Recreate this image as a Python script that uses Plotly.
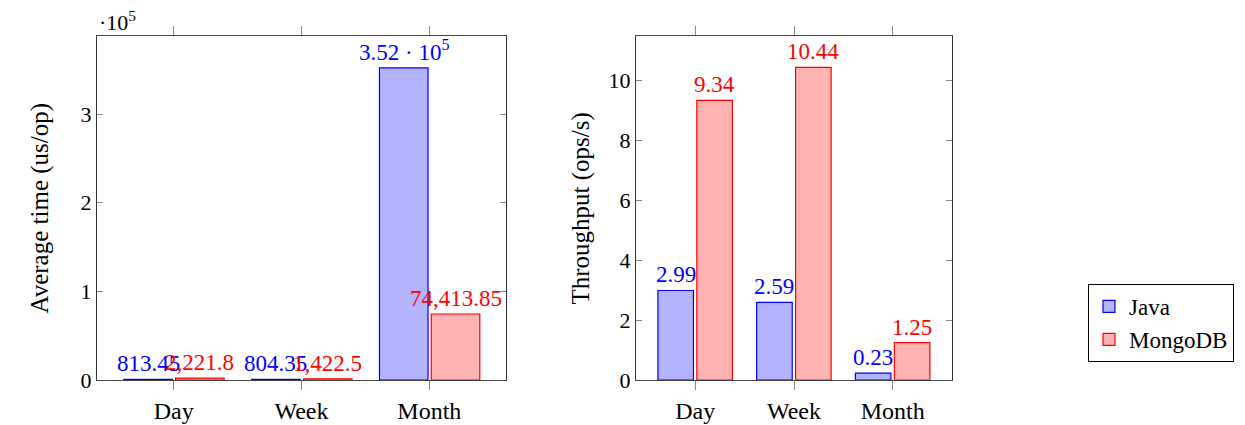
import math
import plotly.graph_objects as go

categories = ["Day", "Week", "Month"]
series_names = ["Java", "MongoDB"]
avg_time_java = [813.45, 804.35, 352000]
avg_time_mongo = [2221.8, 1422.5, 74413.85]
throughput_java = [2.99, 2.59, 0.23]
throughput_mongo = [9.34, 10.44, 1.25]

W, H = 1245, 425
FONT = "Liberation Serif"
FS = 22
BLUE, BLUE_FILL = "#0000FF", "#B3B3FF"
RED, RED_FILL = "#FF0000", "#FFB3B3"


def fmt(v):
    if abs(v) >= 1e5:
        e = int(math.floor(math.log10(abs(v))))
        return f"{v / 10**e:.2f} · 10<sup>{e}</sup>"
    s = f"{v:,.2f}"
    if "." in s:
        s = s.rstrip("0").rstrip(".")
    return s


def px_x(p):
    return p / W


def px_y(p):
    return 1 - p / H


fig = go.Figure()
xs = list(range(len(categories)))

panels = [
    dict(xa="x", ya="y", java=avg_time_java, mongo=avg_time_mongo,
         width=0.38, off_j=-0.39, off_m=0.015, legend=True),
    dict(xa="x2", ya="y2", java=throughput_java, mongo=throughput_mongo,
         width=0.36, off_j=-0.378, off_m=0.016, legend=False),
]

annotations = []
for p in panels:
    for name, vals, off, lc, fc in [
        (series_names[0], p["java"], p["off_j"], BLUE, BLUE_FILL),
        (series_names[1], p["mongo"], p["off_m"], RED, RED_FILL),
    ]:
        fig.add_trace(go.Bar(
            x=xs, y=vals, name=name, xaxis=p["xa"], yaxis=p["ya"],
            width=p["width"], offset=off,
            marker=dict(color=fc, line=dict(color=lc, width=1.2)),
            showlegend=p["legend"], legendgroup=name, cliponaxis=False,
        ))
        for xi, v in zip(xs, vals):
            annotations.append(dict(
                x=xi + off + p["width"] / 2, y=v, xref=p["xa"], yref=p["ya"],
                text=fmt(v), showarrow=False, yanchor="bottom", xanchor="center",
                yshift=1, font=dict(family=FONT, size=23, color=lc),
            ))

# axis titles and multiplier
annotations.append(dict(x=px_x(23), y=px_y(208.5), xref="paper", yref="paper",
                        text="Average time (us/op)", textangle=-90, showarrow=False,
                        font=dict(family=FONT, size=25, color="black")))
annotations.append(dict(x=px_x(580), y=px_y(208.5), xref="paper", yref="paper",
                        text="Throughput (ops/s)", textangle=-90, showarrow=False,
                        font=dict(family=FONT, size=25, color="black")))
annotations.append(dict(x=px_x(97), y=px_y(21), xref="paper", yref="paper",
                        text="·10<sup>5</sup>", showarrow=False, xanchor="left",
                        yanchor="middle",
                        font=dict(family=FONT, size=FS, color="black")))

common_x = dict(
    tickmode="array", tickvals=xs, ticktext=categories, range=[-0.6, 2.6],
    showline=True, linecolor="#444", linewidth=1.3, mirror="ticks",
    ticks="outside", ticklen=9, tickcolor="#888", tickwidth=1,
    showgrid=False, zeroline=False, fixedrange=True, automargin=False,
    layer="below traces",
    tickfont=dict(family=FONT, size=24, color="black"),
)
common_y = dict(
    showline=True, linecolor="#333", linewidth=1.3, mirror="ticks",
    ticks="inside", ticklen=6, tickcolor="#888", tickwidth=1,
    showgrid=False, zeroline=False, automargin=False, fixedrange=True,
    tickfont=dict(family=FONT, size=FS, color="black"),
)

y_top, y_bot = px_y(36), px_y(380)

fig.update_layout(
    width=W, height=H,
    margin=dict(l=0, r=0, t=0, b=0, autoexpand=False),
    paper_bgcolor="white", plot_bgcolor="white",
    barmode="overlay",
    annotations=annotations,
    xaxis=dict(domain=[px_x(97), px_x(506)], anchor="y", **common_x),
    yaxis=dict(domain=[y_bot, y_top], anchor="x", range=[0, 388000],
               tickvals=[0, 100000, 200000, 300000],
               ticktext=["0", "1", "2", "3"], **common_y),
    xaxis2=dict(domain=[px_x(636), px_x(952)], anchor="y2", **common_x),
    yaxis2=dict(domain=[y_bot, y_top], anchor="x2", range=[0, 11.49],
                tickvals=[0, 2, 4, 6, 8, 10], **common_y),
    legend=dict(x=px_x(1088), y=px_y(284), xanchor="left", yanchor="top",
                bordercolor="black", borderwidth=1, bgcolor="white",
                font=dict(family=FONT, size=23, color="black"),
                itemwidth=30, tracegroupgap=0),
    showlegend=True,
)

fig.write_html("out.html", config={"displayModeBar": False},
               post_script="document.body.style.margin='0';document.body.style.padding='0';")
